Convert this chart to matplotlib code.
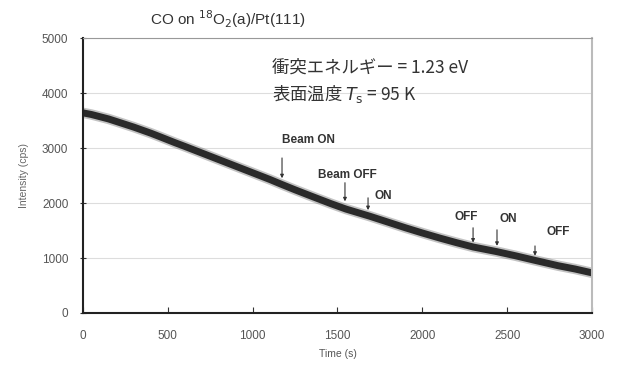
import matplotlib
matplotlib.use("Agg")
import matplotlib.pyplot as plt

plt.rcParams['font.family'] = ['Liberation Sans', 'Noto Sans CJK JP', 'DejaVu Sans']

# data (time in s, intensity in cps)
time = [0, 50, 100, 150, 200, 300, 400, 450, 540, 600, 700, 800, 900, 1000,
        1100, 1170, 1250, 1350, 1460, 1550, 1690, 1800, 1900, 2000, 2100,
        2200, 2300, 2440, 2550, 2660, 2800, 2900, 3000]
intensity = [3640, 3610, 3570, 3530, 3480, 3380, 3270, 3210, 3100, 3030, 2910,
             2790, 2670, 2550, 2430, 2340, 2240, 2120, 1990, 1890, 1760, 1650,
             1550, 1455, 1365, 1280, 1200, 1115, 1040, 960, 860, 800, 730]

event_times = [1173, 1544, 1680, 2299, 2440, 2664]
event_labels = ["Beam ON", "Beam OFF", "ON", "OFF", "ON", "OFF"]
arrow_tip = [2400, 1980, 1820, 1230, 1170, 990]
arrow_top = [2870, 2420, 2145, 1600, 1563, 1270]
label_x = [1330, 1560, 1770, 2260, 2505, 2800]
label_y = [3150, 2510, 2130, 1745, 1710, 1470]

fig = plt.figure(figsize=(6.17, 3.68), dpi=100)
ax = fig.add_axes([0.1345, 0.1495, 0.825, 0.747])

ax.plot(time, intensity, color="#555555", lw=7.5, alpha=0.35, solid_capstyle="butt")
ax.plot(time, intensity, color="#2a2a2a", lw=5, solid_capstyle="butt")

ax.set_xlim(0, 3000)
ax.set_ylim(0, 5000)
ax.set_xticks([0, 500, 1000, 1500, 2000, 2500, 3000])
ax.set_yticks([0, 1000, 2000, 3000, 4000, 5000])
ax.yaxis.grid(True, color="#dddddd", lw=0.8)
ax.set_axisbelow(True)

ax.tick_params(axis="x", direction="in", length=4, colors="#333333", labelsize=8.5,
               labelcolor="#555555", pad=12)
ax.tick_params(axis="y", direction="inout", length=5, colors="#333333", labelsize=8.5,
               labelcolor="#555555", pad=8)
ax.spines["left"].set_linewidth(1.5)
ax.spines["bottom"].set_linewidth(1.5)
ax.spines["left"].set_color("#222222")
ax.spines["bottom"].set_color("#222222")
ax.spines["top"].set_color("#999999")
ax.spines["right"].set_color("#bbbbbb")
ax.spines["right"].set_linewidth(1.5)

ax.set_xlabel("Time (s)", fontsize=7.5, color="#555555", labelpad=5)
ax.set_ylabel("Intensity (cps)", fontsize=7.5, color="#666666", labelpad=9)

# beam on/off markers
for t, lab, tip, top, lx, ly in zip(event_times, event_labels, arrow_tip,
                                    arrow_top, label_x, label_y):
    ax.annotate("", xy=(t, tip), xytext=(t, top),
                arrowprops=dict(arrowstyle="-|>", color="#333333", lw=0.8,
                                mutation_scale=5))
    ax.text(lx, ly, lab, fontsize=8.5, color="#333333",
            fontweight="bold", ha="center", va="center")

fig.text(0.37, 0.948, r"CO on $^{18}$O$_2$(a)/Pt(111)", fontsize=11,
         color="#333333", ha="center", va="center")
ax.text(1114, 4470, "衝突エネルギー = 1.23 eV", fontsize=12.5, color="#333333",
        va="center", family=['Noto Sans CJK JP', 'DejaVu Sans'])
ax.text(1114, 3980, "表面温度 $T_\\mathrm{s}$ = 95 K", fontsize=12.5, color="#333333",
        va="center", family=['Noto Sans CJK JP', 'DejaVu Sans'])

fig.savefig("out.png", dpi=100)
